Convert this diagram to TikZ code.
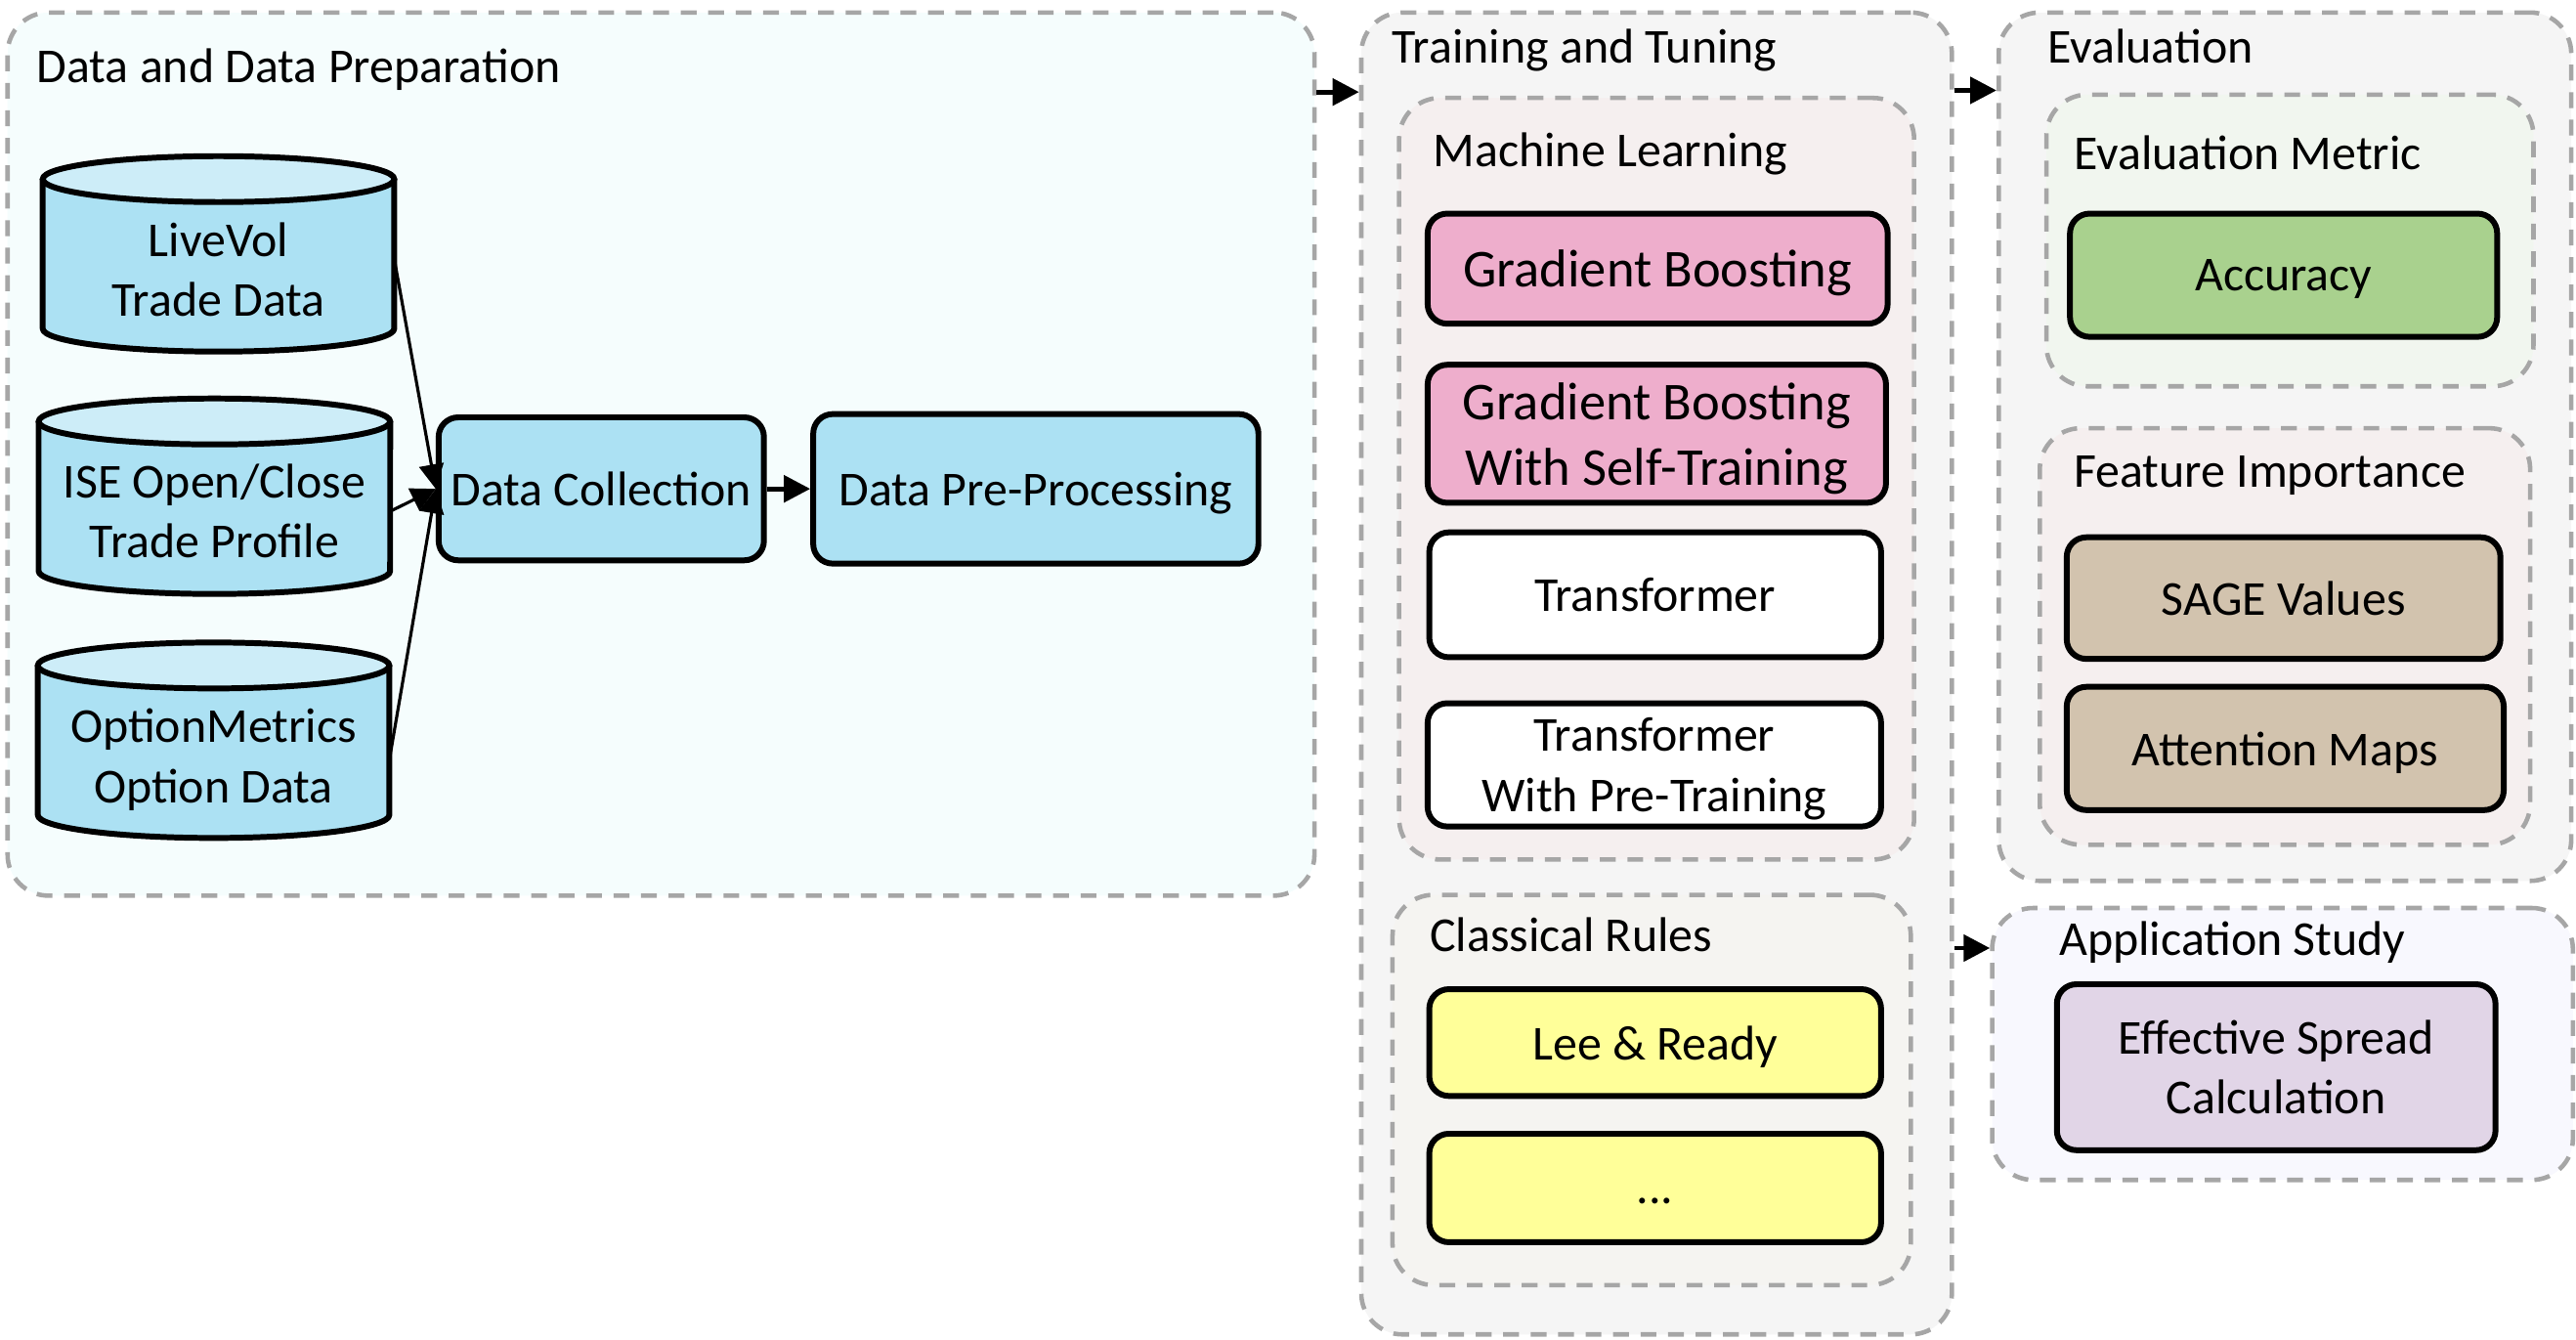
\documentclass[tikz,border=0pt]{standalone}
\usepackage{fontspec}
\setmainfont{Carlito}
\usetikzlibrary{arrows.meta,calc}
\definecolor{dashgray}{HTML}{A6A6A6}
\definecolor{gprep}{HTML}{F5FDFD}
\definecolor{gtrain}{HTML}{F5F5F5}
\definecolor{gml}{HTML}{F5EFEF}
\definecolor{gcr}{HTML}{F5F4F1}
\definecolor{gevm}{HTML}{F1F6EF}
\definecolor{gfi}{HTML}{F5EFEF}
\definecolor{gapp}{HTML}{F8F8FE}
\definecolor{cblue}{HTML}{ACE1F3}
\definecolor{cbluetop}{HTML}{CDEDF8}
\definecolor{cpink}{HTML}{EEAECC}
\definecolor{cgreen}{HTML}{A9D18E}
\definecolor{ctan}{HTML}{D2C3AE}
\definecolor{clav}{HTML}{E1D5E7}
\definecolor{cyellow}{HTML}{FFFF99}
\tikzset{
  group/.style={draw=dashgray, line width=1.3pt, dash pattern=on 4.6pt off 3.4pt, rounded corners=0.42cm, inner sep=0pt, anchor=north west},
  sz/.style 2 args={minimum width=#1*0.01681cm, minimum height=#2*0.01681cm},
  title/.style={anchor=west, inner sep=0pt, text depth=0pt, font=\fontsize{14.2}{17}\selectfont},
  box/.style={draw=black, line width=1.7pt, rounded corners=0.2cm, align=center, inner sep=0pt, text depth=0pt, font=\fontsize{14.2}{17.5}\selectfont},
  bigtext/.style={font=\fontsize{15.5}{19}\selectfont},
  cyltext/.style={align=center, inner sep=0pt, text depth=0pt, font=\fontsize{14.2}{17.5}\selectfont},
  arr/.style={line width=1.4pt, -{Triangle[length=0.27cm,width=0.27cm]}},
  thinarr/.style={line width=0.9pt, -{Triangle[length=0.25cm,width=0.25cm]}},
  dbcyl/.pic={
    \fill[cblue] (-107,-45.5) -- (-107,45.5) arc[start angle=180,end angle=360,x radius=1.799cm,y radius=0.235cm]
       -- (107,-45.5) arc[start angle=0,end angle=180,x radius=1.799cm,y radius=0.235cm] -- cycle;
    \draw[line width=1.7pt, line join=round] (-107,-45.5) -- (-107,45.5) arc[start angle=180,end angle=360,x radius=1.799cm,y radius=0.235cm] -- (107,-45.5);
    \draw[line width=1.7pt, fill=cbluetop] (0,-45.5) ellipse[x radius=1.799cm,y radius=0.235cm];
  }
}
\begin{document}
\begin{tikzpicture}[x=0.01681cm,y=-0.01681cm]
\useasboundingbox (0,0) rectangle (1568,815);

% ---------- groups ----------
\node[group, fill=gprep, sz={795.5}{537.5}] (g1) at (3.25,6.25) {};
\node[group, fill=gtrain, sz={359.5}{804.5}] (g2) at (827.25,6.25) {};
\node[group, fill=gml, sz={313.5}{463.5}] (g2a) at (850.25,58.25) {};
\node[group, fill=gcr, sz={315.5}{237.5}] (g2b) at (846.25,543.25) {};
\node[group, fill=gtrain, sz={348.5}{528.5}] (g3) at (1215.25,6.25) {};
\node[group, fill=gevm, sz={296.5}{177.5}] (g3a) at (1244.25,56.25) {};
\node[group, fill=gfi, sz={298.5}{253.5}] (g3b) at (1240.25,259.25) {};
\node[group, fill=gapp, sz={353.5}{165.5}] (g4) at (1211.25,551.25) {};

% ---------- titles ----------
\node[title] (t1) at (22,40) {Data and Data Preparation};
\node[title] (t2) at (847,28) {Training and Tuning};
\node[title] (t2a) at (872,91) {Machine Learning};
\node[title] (t2b) at (870,569) {Classical Rules};
\node[title] (t3) at (1246,28) {Evaluation};
\node[title] (t3a) at (1262,93) {Evaluation Metric};
\node[title] (t3b) at (1262,287) {Feature Importance};
\node[title] (t4) at (1253,571) {Application Study};

% ---------- data sources ----------
\pic at (133,154.5) {dbcyl};
\pic at (130.5,302) {dbcyl};
\pic at (130,450.5) {dbcyl};
\node[cyltext, sz={214}{40}] (livevol) at (133,164) {LiveVol\\Trade Data};
\node[cyltext, sz={214}{40}] (ise) at (130.5,311) {ISE Open/Close\\Trade Profile};
\node[cyltext, sz={214}{40}] (om) at (130,460) {OptionMetrics\\Option Data};

\node[box, fill=cblue, sz={198}{87}] (dc) at (366,297.5) {Data Collection};
\node[box, fill=cblue, sz={271}{91}] (dpp) at (630.5,297.5) {Data Pre-Processing};

% ---------- training ----------
\node[box, fill=cpink, sz={280}{67}, bigtext] (gb) at (1009,163.5) {Gradient Boosting};
\node[box, fill=cpink, sz={279}{84}, bigtext] (gbst) at (1008.5,264) {Gradient Boosting\\With Self-Training};
\node[box, fill=white, sz={275}{76}] (tr) at (1007.5,362) {Transformer};
\node[box, fill=white, sz={276}{75}] (tpt) at (1007,465.5) {Transformer\\With Pre-Training};
\node[box, fill=cyellow, sz={275}{65}] (lr) at (1007.5,634.5) {Lee \& Ready};
\node[box, fill=cyellow, sz={275}{66}] (dots) at (1007.5,723) {\vphantom{T}...};

% ---------- evaluation ----------
\node[box, fill=cgreen, sz={260}{75}] (acc) at (1390,167.5) {Accuracy};
\node[box, fill=ctan, sz={264}{74}] (sage) at (1390,364) {SAGE Values};
\node[box, fill=ctan, sz={266}{75}] (att) at (1391,455.5) {Attention Maps};
\node[box, fill=clav, sz={267}{101}] (esc) at (1385.5,649.5) {Effective Spread\\Calculation};

% ---------- connectors ----------
\coordinate (c1) at (0,160);
\draw[thinarr] (livevol.east |- c1) -- (dc.west);
\draw[thinarr] (ise.east) -- (dc.west);
\draw[thinarr] (om.east) -- (dc.west);
\draw[arr] (dc.east) -- (dpp.west);

\coordinate (a1) at (0,56);
\coordinate (a2) at (0,55);
\coordinate (a3) at (0,577);
\draw[arr] (g1.east |- a1) -- (g2.west |- a1);
\draw[arr] (g2.east |- a2) -- (g3.west |- a2);
\draw[arr] (g2.east |- a3) -- (g4.west |- a3);
\end{tikzpicture}
\end{document}
